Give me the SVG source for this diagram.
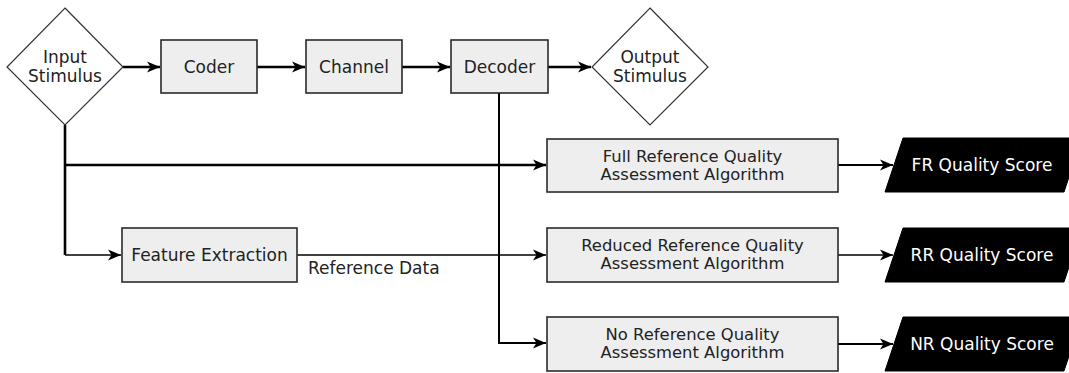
<svg xmlns="http://www.w3.org/2000/svg" width="1069" height="373" viewBox="0 0 1069 373">
<defs>
<style>
.box{fill:#eeeeee;stroke:#2a2a2a;stroke-width:1.6}
.dia{fill:#ffffff;stroke:#333333;stroke-width:1.2}
.score{fill:#000000;stroke:#000000;stroke-width:1}
.t{font-family:"DejaVu Sans",Verdana,sans-serif;font-size:17px;fill:#222222;text-anchor:middle}
.ta{font-family:"DejaVu Sans",Verdana,sans-serif;font-size:16.4px;fill:#222222;text-anchor:middle}
.tw{font-family:"DejaVu Sans",Verdana,sans-serif;font-size:17px;fill:#ffffff;text-anchor:middle}
.c{fill:none;stroke:#000000}
.thick{stroke-width:2.6}
.mid{stroke-width:2}
.thin{stroke-width:1.5}
</style>
<marker id="ah" markerUnits="userSpaceOnUse" markerWidth="14" markerHeight="12" viewBox="0 0 14 12" refX="13" refY="6" orient="auto">
<path d="M0,0.5 L13,6 L0,11.5 L3.5,6 z" fill="#000000"/>
</marker>
</defs>

<g id="connectors">
<line class="c thick" x1="123" y1="67" x2="160" y2="67" marker-end="url(#ah)"/>
<line class="c thick" x1="257" y1="67" x2="305" y2="67" marker-end="url(#ah)"/>
<line class="c thick" x1="402" y1="67" x2="450" y2="67" marker-end="url(#ah)"/>
<line class="c thick" x1="548" y1="67" x2="591" y2="67" marker-end="url(#ah)"/>
<polyline class="c thick" points="65,125 65,255"/>
<line class="c thick" x1="65" y1="165" x2="546" y2="165" marker-end="url(#ah)"/>
<polyline class="c thin" points="65,255 121,255" marker-end="url(#ah)"/>
<line class="c thin" x1="297" y1="255" x2="546" y2="255" marker-end="url(#ah)"/>
<polyline class="c mid" points="499,93 499,343 546,343" marker-end="url(#ah)"/>
<line class="c mid" x1="838" y1="165" x2="893" y2="165" marker-end="url(#ah)"/>
<line class="c thin" x1="838" y1="255" x2="893" y2="255" marker-end="url(#ah)"/>
<line class="c mid" x1="838" y1="344" x2="893" y2="344" marker-end="url(#ah)"/>
<text class="t" x="308" y="274" style="text-anchor:start">Reference Data</text>
</g>

<g id="input">
<polygon class="dia" points="65,8 123,67 65,125 7,67"/>
<text class="t" x="65" y="63">Input</text>
<text class="t" x="65" y="82">Stimulus</text>
</g>

<g id="coder">
<rect class="box" x="161" y="40" width="96" height="53"/>
<text class="t" x="209" y="73">Coder</text>
</g>

<g id="channel">
<rect class="box" x="306" y="40" width="96" height="53"/>
<text class="t" x="354" y="73">Channel</text>
</g>

<g id="decoder">
<rect class="box" x="451" y="40" width="97" height="53"/>
<text class="t" x="499.5" y="73">Decoder</text>
</g>

<g id="output">
<polygon class="dia" points="650,8 708,67 650,125 592,67"/>
<text class="t" x="650" y="63">Output</text>
<text class="t" x="650" y="82">Stimulus</text>
</g>

<g id="feature">
<rect class="box" x="122" y="228" width="175" height="54"/>
<text class="t" x="209.5" y="261">Feature Extraction</text>
</g>

<g id="fr">
<rect class="box" x="547" y="139" width="291" height="53"/>
<text class="ta" x="692.5" y="161.5">Full Reference Quality</text>
<text class="ta" x="692.5" y="180">Assessment Algorithm</text>
</g>

<g id="rr">
<rect class="box" x="547" y="228" width="291" height="54"/>
<text class="ta" x="692.5" y="250.5">Reduced Reference Quality</text>
<text class="ta" x="692.5" y="269">Assessment Algorithm</text>
</g>

<g id="nr">
<rect class="box" x="547" y="317" width="291" height="54"/>
<text class="ta" x="692.5" y="339.5">No Reference Quality</text>
<text class="ta" x="692.5" y="358">Assessment Algorithm</text>
</g>

<g id="frscore">
<polygon class="score" points="903,138 1082,138 1064,192 885,192"/>
<text class="tw" x="982" y="171">FR Quality Score</text>
</g>

<g id="rrscore">
<polygon class="score" points="903,228 1082,228 1064,282 885,282"/>
<text class="tw" x="982" y="261">RR Quality Score</text>
</g>

<g id="nrscore">
<polygon class="score" points="903,317 1082,317 1064,371 885,371"/>
<text class="tw" x="982" y="350">NR Quality Score</text>
</g>
</svg>
